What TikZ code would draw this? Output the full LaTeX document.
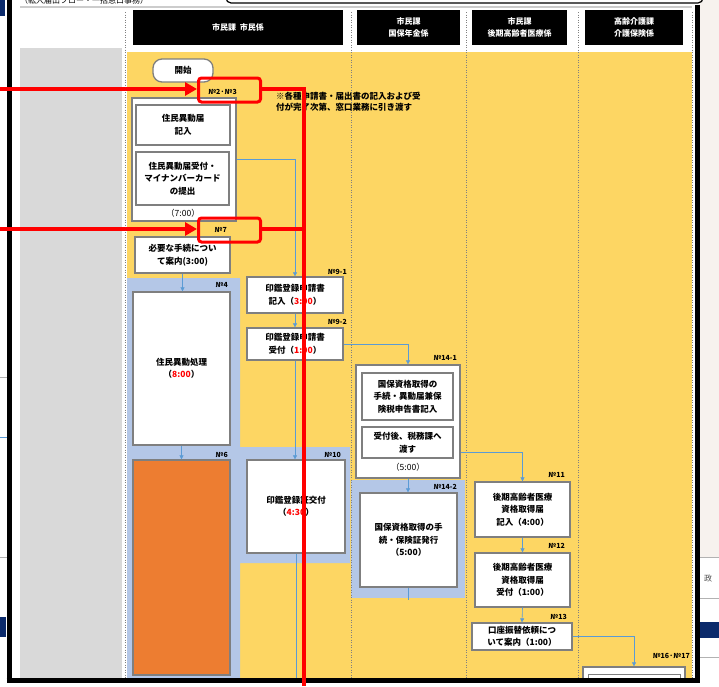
\documentclass[tikz,border=0pt]{standalone}
\usepackage{fontspec}
\newfontfamily\jp{Noto Sans CJK JP}
\usetikzlibrary{arrows.meta,calc}
\definecolor{gold}{HTML}{FDD663}
\definecolor{lblue}{HTML}{B4C7E7}
\definecolor{connc}{HTML}{5B9BD5}
\definecolor{orng}{HTML}{ED7D31}
\definecolor{bgray}{HTML}{7F7F7F}
\definecolor{colgray}{HTML}{D9D9D9}
\definecolor{navy}{HTML}{0B2A6B}
\definecolor{beige}{HTML}{F7F2EE}
\newcommand{\redt}[1]{\textcolor{red}{#1}}
\begin{document}
\begin{tikzpicture}[x=1pt,y=-1pt,
 box/.style={draw=bgray,line width=1.3pt,fill=white,align=center,inner sep=1pt,font=\jp\bfseries\fontsize{8.5}{12.5}\selectfont},
 hdr/.style={fill=black,text=white,align=center,inner sep=0,font=\jp\bfseries\fontsize{8}{12.5}\selectfont},
 lbl/.style={anchor=east,inner sep=0,font=\jp\bfseries\fontsize{7}{7}\selectfont},
 plain/.style={inner sep=0,font=\jp\fontsize{8.5}{12.5}\selectfont},
 connector/.style={draw=connc,line width=0.6pt,-{Triangle[length=4pt,width=4pt]}},
 cline/.style={draw=connc,line width=0.6pt},
 lane/.style={draw=gray,line width=0.8pt,dash pattern=on 1pt off 1.5pt},
 redline/.style={draw=red,line width=4.5pt},
 redbox/.style={draw=red,line width=3pt,rounded corners=3pt,inner sep=0},
 redarrow/.style={draw=red,line width=4.5pt,-{Triangle[length=12pt,width=13pt]}}]
\useasboundingbox (0,0) rectangle (719,686);
\fill[white] (0,0) rectangle (719,686);
% outside right
\fill[beige] (699,0) rectangle (719,557);
\draw[gray!60,line width=0.8pt] (699,557) -- (719,557);
\draw[gray!60,line width=0.8pt] (699,598) -- (719,598);
\fill[navy] (699,622) rectangle (719,638);
\draw[gray!60,line width=0.8pt] (699,657) -- (719,657);
\node[font=\jp\fontsize{8}{8}\selectfont,text=black!70] at (708,578) {政};
% outside left
\fill[navy] (0,0) rectangle (5,16);
\fill[navy] (0,617) rectangle (6,637);
\draw[gray!60] (0,377) -- (7,377);
\draw[gray!60] (0,557) -- (7,557);
\draw[connc] (0,437) -- (7,437);
% title (cut off at the top edge, as in the reference)
\begin{scope}
\clip (15,0) rectangle (224,4);
\node[anchor=west,inner sep=0,font=\jp\fontsize{8}{8}\selectfont] (title) at (20,0) {（転入届出フロー・一括窓口事務）};
\end{scope}
\draw[black!20,line width=2pt] (20,7) -- (692,7);
% backgrounds
\fill[colgray] (20,48) rectangle (122,680);
\fill[gold] (127,52) rectangle (692,680);
\fill[lblue] (127,278) -- (240,278) -- (240,447) -- (350,447) -- (350,563) -- (240,563) -- (240,680) -- (127,680) -- cycle;
\fill[lblue] (351,480) rectangle (465,598);
\foreach \x in {125,351,466,578,692} \draw[lane] (\x,12) -- (\x,680);
% headers
\node[hdr,minimum width=210pt,minimum height=35pt] (h1) at (238,27.5) {市民課\ \ 市民係};
\node[hdr,minimum width=103pt,minimum height=35pt] (h2) at (408.5,27.5) {市民課\\国保年金係};
\node[hdr,minimum width=95pt,minimum height=35pt] (h3) at (519.5,27.5) {市民課\\後期高齢者医療係};
\node[hdr,minimum width=98pt,minimum height=35pt] (h4) at (634,27.5) {高齢介護課\\介護保険係};
\begin{scope}
\clip (12,8) rectangle (694,678);
% lane 1
\node[box,rounded corners=9pt,minimum width=60pt,minimum height=23pt] (start) at (183,70.5) {開始};
\node[box,minimum width=104pt,minimum height=123pt] (grpA) at (184,159.5) {};
\node[box,minimum width=94pt,minimum height=40pt] (a1) at (183,125) {住民異動届\\記入};
\node[box,minimum width=93pt,minimum height=53pt] (a2) at (182.5,178.5) {住民異動届受付・\\マイナンバーカード\\の提出};
\node[plain] (ta) at (183,213) {（7:00）};
\node[box,minimum width=95pt,minimum height=36pt] (b) at (182.5,255) {必要な手続につい\\て案内(3:00)};
\node[box,minimum width=97pt,minimum height=153pt] (n4) at (181.5,368.5) {住民異動処理\\（\redt{8:00}）};
\node[box,fill=orng,minimum width=97pt,minimum height=215pt] (n6) at (181.5,567.5) {};
\node[box,minimum width=96pt,minimum height=36pt] (n91) at (295,295) {印鑑登録申請書\\記入（\redt{3:00}）};
\node[box,minimum width=96pt,minimum height=32pt] (n92) at (295,344) {印鑑登録申請書\\受付（\redt{1:00}）};
\node[box,minimum width=98pt,minimum height=93pt] (n10) at (296,506.5) {印鑑登録証交付\\（\redt{4:30}）};
% lane 2
\node[box,minimum width=104pt,minimum height=113pt] (grp14) at (408,421.5) {};
\node[box,minimum width=91pt,minimum height=47pt] (c1) at (407.5,396.5) {国保資格取得の\\手続・異動届兼保\\険税申告書記入};
\node[box,minimum width=91pt,minimum height=31pt] (c2) at (407.5,442.5) {受付後、税務課へ\\渡す};
\node[plain] (tc) at (408,467) {（5:00）};
\node[box,minimum width=97pt,minimum height=94pt] (n142) at (408.5,540) {国保資格取得の手\\続・保険証発行\\（5:00）};
% lane 3
\node[box,minimum width=95pt,minimum height=55pt] (n11) at (522.5,509.5) {後期高齢者医療\\資格取得届\\記入（4:00）};
\node[box,minimum width=95pt,minimum height=54pt] (n12) at (522.5,580) {後期高齢者医療\\資格取得届\\受付（1:00）};
\node[box,minimum width=100pt,minimum height=27pt] (n13) at (522,636.5) {口座振替依頼につ\\いて案内（1:00）};
% lane 4
\node[box,minimum width=102pt,minimum height=30pt] (n16) at (634,682) {};
\node[box,line width=0.8pt,minimum width=92pt,minimum height=20pt] (n16i) at (634,684) {};
% note
\node[anchor=north west,inner sep=0,align=left,font=\jp\bfseries\fontsize{8.5}{11}\selectfont] (note) at (276,92) {※各種申請書・届出書の記入および受\\付が完了次第、窓口業務に引き渡す};
% labels
\node[lbl] (l23) at (237,92) {№2·№3};
\node[lbl] (l7) at (227,230) {№7};
\node[lbl] (l91) at (347,272) {№9-1};
\node[lbl] (l92) at (347,322) {№9-2};
\node[lbl] (l4) at (228,285) {№4};
\node[lbl] (l6) at (228,455) {№6};
\node[lbl] (l10) at (341,455) {№10};
\node[lbl] (l141) at (457,358) {№14-1};
\node[lbl] (l142) at (457,487) {№14-2};
\node[lbl] (l11) at (565,475) {№11};
\node[lbl] (l12) at (565,546) {№12};
\node[lbl] (l13) at (567,617) {№13};
\node[lbl] (l16) at (690,656) {№16·№17};
% connectors
\coordinate (e10) at (296,680);
\coordinate (e142) at (408.5,600);
\draw[connector] (grpA.east) -| (n91.north);
\draw[connector] (b.south) -- (b.south |- n4.north);
\draw[connector] (n4.south) -- (n6.north);
\draw[connector] (n91.south) -- (n92.north);
\draw[connector] (n92.south) -- (n92.south |- n10.north);
\draw[connector] (n92.east) -| (grp14.north);
\draw[connector] (grp14.south) -- (grp14.south |- n142.north);
\draw[connector] ([yshift=26pt]grp14.south east) -| (n11.north);
\draw[connector] (n11.south) -- (n12.north);
\draw[connector] (n12.south) -- (n13.north);
\draw[connector] (n13.east) -| (n16.north);
\draw[cline] (n10.south) -- (e10);
\draw[cline] (n142.south) -- (e142);
\end{scope}
% frame
\draw[line width=5pt] (9,0) -- (9,683);
\draw[line width=5pt] (6.5,680.5) -- (699.5,680.5);
\draw[line width=5pt] (697,5) -- (697,683);
\draw[line width=1.2pt,rounded corners=5pt] (226,-8) -- (226,3) -- (703,3) -- (703,-8);
% red annotations
\node[redbox,minimum width=62pt,minimum height=24pt] (rb1) at (229.5,90) {};
\node[redbox,minimum width=62pt,minimum height=24pt] (rb2) at (229.5,230) {};
\coordinate (r1s) at (0,89);
\coordinate (r2s) at (0,229);
\coordinate (rtop) at (304,89);
\coordinate (rbot) at (304,686);
\draw[redarrow] (r1s) -- (rb1.west |- r1s);
\draw[redarrow] (r2s) -- (rb2.west |- r2s);
\draw[redline] (rb1.east |- rtop) -- (rtop) -- (rbot);
\draw[redline] (rb2.east |- r2s) -- (rtop |- r2s);
\end{tikzpicture}
\end{document}
